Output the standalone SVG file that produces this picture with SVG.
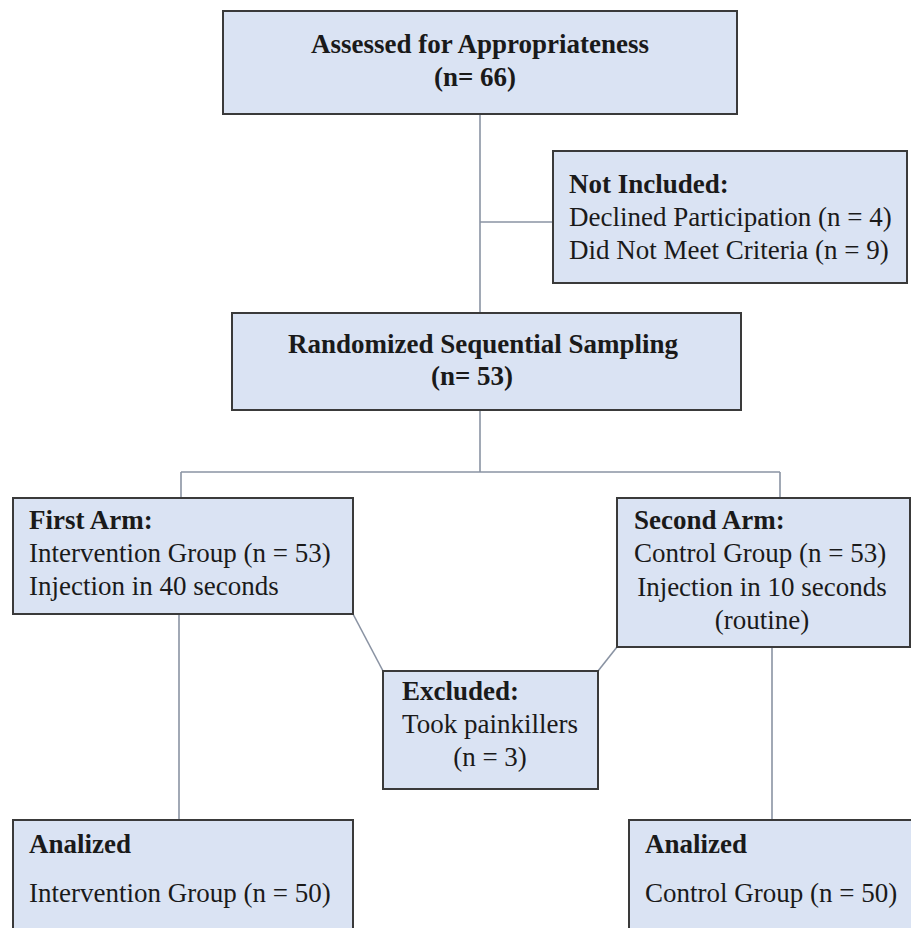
<svg xmlns="http://www.w3.org/2000/svg" width="911" height="928" viewBox="0 0 911 928">
<style>
.box{fill:#dae3f3;stroke:#3a3a3a;stroke-width:2}
.t{font-family:"Liberation Serif","Times New Roman",serif;font-size:27px;fill:#1a1a1a}
.b{font-weight:bold}
.c{text-anchor:middle}
.ln{stroke:#8a93a3;stroke-width:1.6;fill:none}
</style>
<rect width="911" height="928" fill="#ffffff"/>
<g id="connectors">
<line class="ln" x1="480" y1="114" x2="480" y2="313"/>
<line class="ln" x1="480" y1="222" x2="553" y2="222"/>
<line class="ln" x1="480" y1="410" x2="480" y2="472"/>
<line class="ln" x1="181" y1="472" x2="780" y2="472"/>
<line class="ln" x1="181" y1="472" x2="181" y2="498"/>
<line class="ln" x1="780" y1="472" x2="780" y2="498"/>
<line class="ln" x1="179" y1="614" x2="179" y2="820"/>
<line class="ln" x1="772" y1="647" x2="772" y2="820"/>
<line class="ln" x1="353" y1="614" x2="383" y2="671"/>
<line class="ln" x1="598" y1="671" x2="617" y2="647"/>
</g>
<g id="assessed">
<rect class="box" x="223" y="11" width="514" height="103"/>
<text class="t b c" x="480" y="53">Assessed for Appropriateness</text>
<text class="t b c" x="475" y="86">(n= 66)</text>
</g>
<g id="not-included">
<rect class="box" x="553" y="151" width="354" height="132"/>
<text class="t b" x="569" y="193">Not Included:</text>
<text class="t" x="569" y="226">Declined Participation (n = 4)</text>
<text class="t" x="569" y="259">Did Not Meet Criteria (n = 9)</text>
</g>
<g id="randomized">
<rect class="box" x="232" y="313" width="509" height="97"/>
<text class="t b c" x="483" y="353">Randomized Sequential Sampling</text>
<text class="t b c" x="472" y="385">(n= 53)</text>
</g>
<g id="first-arm">
<rect class="box" x="13" y="498" width="340" height="116"/>
<text class="t b" x="29" y="529">First Arm:</text>
<text class="t" x="29" y="562">Intervention Group (n = 53)</text>
<text class="t" x="29" y="595">Injection in 40 seconds</text>
</g>
<g id="second-arm">
<rect class="box" x="617" y="498" width="293" height="149"/>
<text class="t b" x="634" y="529">Second Arm:</text>
<text class="t" x="634" y="562">Control Group (n = 53)</text>
<text class="t c" x="762" y="596">Injection in 10 seconds</text>
<text class="t c" x="762" y="629">(routine)</text>
</g>
<g id="excluded">
<rect class="box" x="383" y="671" width="215" height="118"/>
<text class="t b" x="402" y="700">Excluded:</text>
<text class="t c" x="490" y="733">Took painkillers</text>
<text class="t c" x="490" y="766">(n = 3)</text>
</g>
<g id="analized-left">
<rect class="box" x="13" y="820" width="340" height="130"/>
<text class="t b" x="29" y="853">Analized</text>
<text class="t" x="29" y="902">Intervention Group (n = 50)</text>
</g>
<g id="analized-right">
<rect class="box" x="629" y="820" width="300" height="130"/>
<text class="t b" x="645" y="853">Analized</text>
<text class="t" x="645" y="902">Control Group (n = 50)</text>
</g>
</svg>
